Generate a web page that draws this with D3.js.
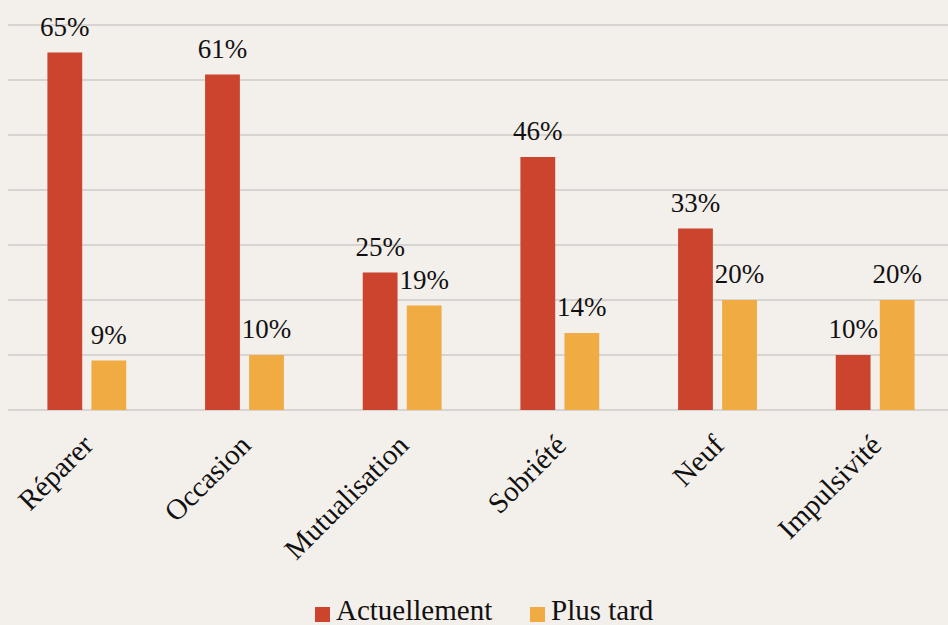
<html>
<script src="https://d3js.org/d3.v7.min.js"></script>
<style>
  body { margin: 0; background: #f3efeb; }
  text { font-family: "Liberation Serif", serif; fill: #111; }
</style>
<body>
<svg width="948" height="625"></svg>
<script>
const categories = ["Réparer", "Occasion", "Mutualisation", "Sobriété", "Neuf", "Impulsivité"];
const series = ["Actuellement", "Plus tard"];
const actuellement = [65, 61, 25, 46, 33, 10];
const plusTard = [9, 10, 19, 14, 20, 20];
const yTicks = [0, 10, 20, 30, 40, 50, 60, 70];
const colors = ["#cc442e", "#f0ab43"];

const svg = d3.select("svg");
svg.append("rect").attr("width", 948).attr("height", 625).attr("fill", "#f3efeb");

const x0 = d3.scaleBand().domain(categories).range([8, 954]).paddingInner(0.5).paddingOuter(0.25);
const x1 = d3.scaleBand().domain(series).range([0, x0.bandwidth()]).paddingInner(0.21);
const y = d3.scaleLinear().domain([0, 70]).range([410, 25]);

// grid lines
svg.append("g")
  .selectAll("line")
  .data(yTicks)
  .join("line")
    .attr("x1", 8).attr("x2", 948)
    .attr("y1", d => y(d)).attr("y2", d => y(d))
    .attr("stroke", "#d8d4d1")
    .attr("stroke-width", 2);

const rows = categories.map((c, i) => ({cat: c, vals: [actuellement[i], plusTard[i]]}));

const groups = svg.append("g")
  .selectAll("g")
  .data(rows)
  .join("g")
    .attr("transform", d => "translate(" + x0(d.cat) + ",0)");

groups.selectAll("rect")
  .data(d => d.vals.map((v, j) => ({s: series[j], v: v, j: j})))
  .join("rect")
    .attr("x", d => x1(d.s))
    .attr("y", d => y(d.v))
    .attr("width", x1.bandwidth())
    .attr("height", d => y(0) - y(d.v))
    .attr("fill", d => colors[d.j]);

groups.selectAll("text")
  .data(d => d.vals.map((v, j) => ({s: series[j], v: v})))
  .join("text")
    .attr("x", d => x1(d.s) + x1.bandwidth() / 2)
    .attr("y", d => y(d.v) - 17)
    .attr("text-anchor", "middle")
    .style("font-size", "27px")
    .text(d => d.v + "%");

// category labels
svg.append("g")
  .selectAll("text")
  .data(categories)
  .join("text")
    .attr("transform", d => "translate(" + (x0(d) + x0.bandwidth() / 2 + 8) + ",447) rotate(-45)")
    .attr("text-anchor", "end")
    .style("font-size", "29px")
    .text(d => d);

// legend
const legendX = [315, 530];
const legend = svg.append("g")
  .selectAll("g")
  .data(series)
  .join("g")
    .attr("transform", (d, i) => "translate(" + legendX[i] + ",607)");
legend.append("rect").attr("width", 15).attr("height", 15).attr("fill", (d, i) => colors[i]);
legend.append("text").attr("x", 21).attr("y", 13).style("font-size", "29px").text(d => d);
</script>
</body>
</html>
